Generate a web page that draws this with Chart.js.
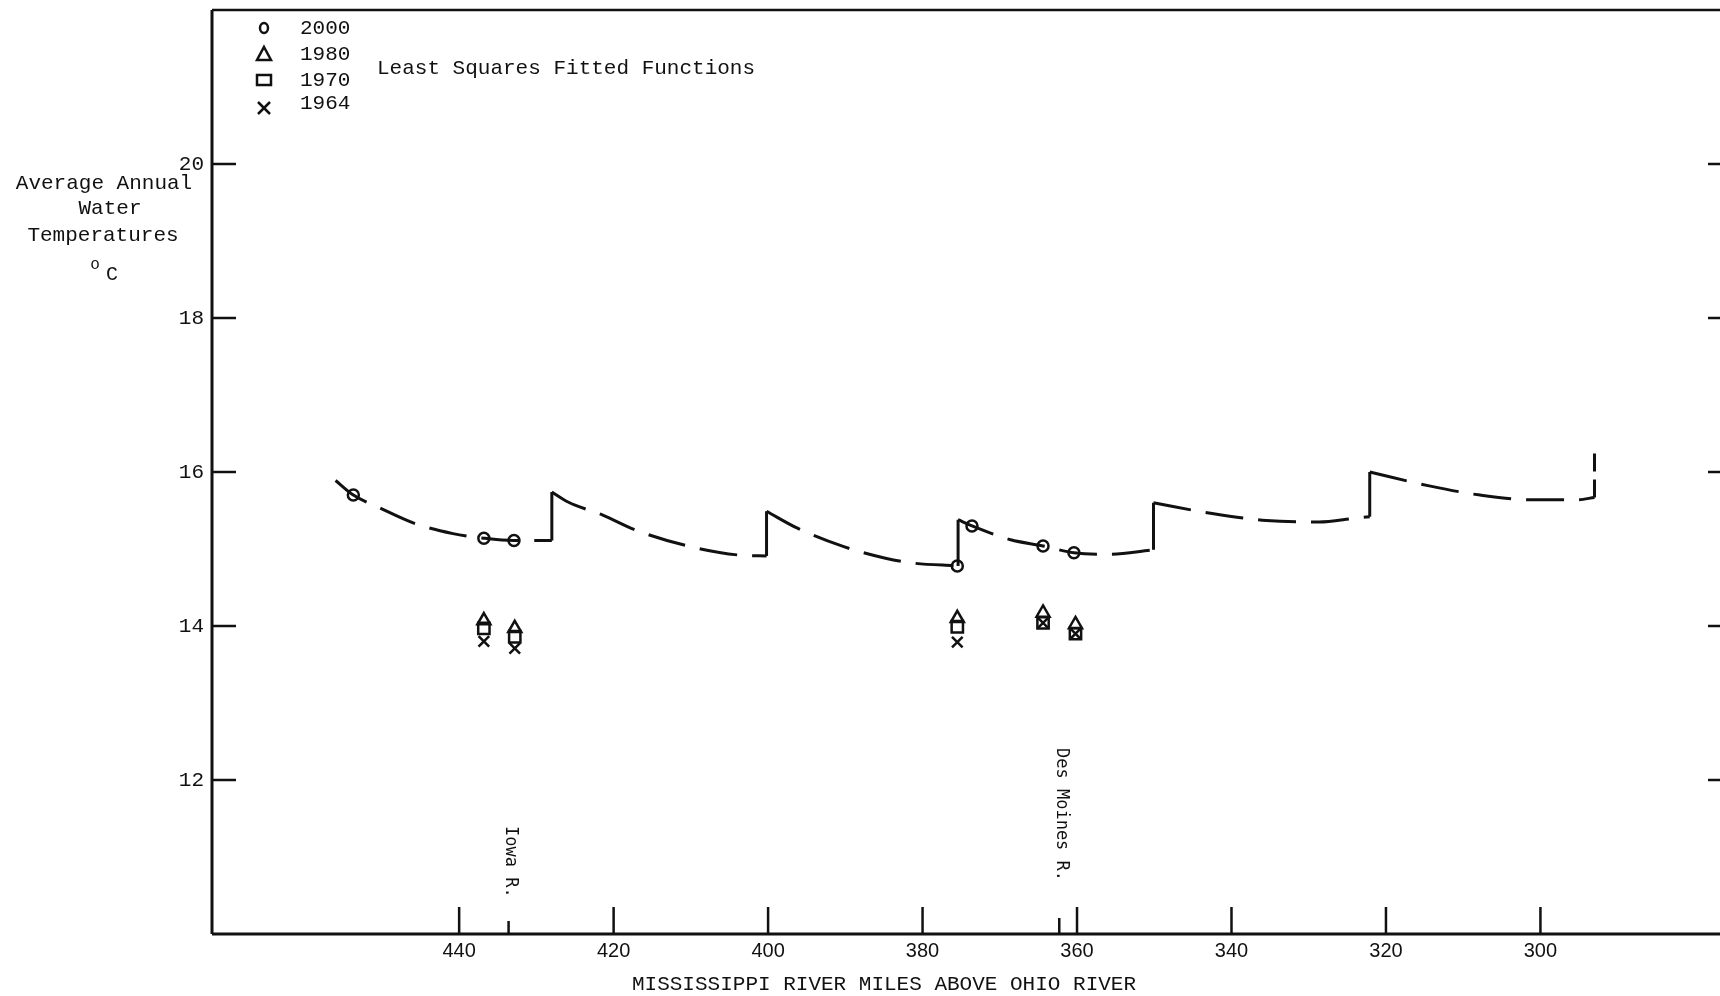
<!DOCTYPE html>
<html>
<head>
<meta charset="utf-8">
<script src="https://cdn.jsdelivr.net/npm/chart.js@4/dist/chart.umd.min.js"></script>
<style>
  html, body { margin: 0; padding: 0; background: #fff; }
</style>
</head>
<body>
<canvas id="tempChart" width="1720" height="996"></canvas>
<script>
// ---- data ----
const xTicks = [440, 420, 400, 380, 360, 340, 320, 300];
const yTicks = [12, 14, 16, 18, 20];

// fitted function pieces (river mile, deg C), left to right
const seg1Miles = [456.0, 453.7, 450.4, 445.7, 440.8, 436.8, 432.9, 428.0];
const seg1Temps = [15.89, 15.70, 15.54, 15.33, 15.20, 15.14, 15.11, 15.11];
const seg2Miles = [428.0, 425.9, 421.4, 417.0, 410.0, 403.6, 400.2];
const seg2Temps = [15.74, 15.61, 15.44, 15.24, 15.03, 14.92, 14.91];
const seg3Miles = [400.2, 396.2, 390.2, 384.8, 381.5, 375.4];
const seg3Temps = [15.49, 15.27, 15.03, 14.88, 14.82, 14.78];
const seg4Miles = [375.4, 373.6, 368.6, 364.4, 360.4, 356.1, 350.1];
const seg4Temps = [15.38, 15.30, 15.12, 15.04, 14.95, 14.93, 14.99];
const seg5Miles = [350.1, 342.5, 335.5, 328.7, 324.0, 322.1];
const seg5Temps = [15.60, 15.46, 15.37, 15.35, 15.40, 15.42];
const seg6Miles = [322.1, 314.4, 307.8, 301.3, 295.2, 293.0];
const seg6Temps = [16.00, 15.82, 15.70, 15.64, 15.64, 15.67];
const endMiles = [293.0, 293.0];
const endTemps = [15.67, 16.28];

// observed / projected points
const miles2000 = [453.7, 436.8, 432.9, 375.5, 373.6, 364.4, 360.4];
const temps2000 = [15.70, 15.14, 15.11, 14.78, 15.30, 15.04, 14.95];
const siteMiles = [436.8, 432.8, 375.5, 364.4, 360.2];
const temps1980 = [14.07, 13.97, 14.10, 14.17, 14.02];
const temps1970 = [13.97, 13.86, 13.99, 14.04, 13.90];
const temps1964 = [13.80, 13.71, 13.79, 14.04, 13.90];

const years = ['2000', '1980', '1970', '1964'];
const riverNames = ['Iowa R.', 'Des Moines R.'];
const riverMiles = [433.6, 362.3];

const ink = '#111';
const mono = "'Liberation Mono', 'DejaVu Sans Mono', monospace";

function pts(xs, ys) { return xs.map((v, i) => ({ x: v, y: ys[i] })); }

const segments = [
  [seg1Miles, seg1Temps], [seg2Miles, seg2Temps], [seg3Miles, seg3Temps],
  [seg4Miles, seg4Temps], [seg5Miles, seg5Temps], [seg6Miles, seg6Temps]
];

const datasets = [];
segments.forEach(([m, t]) => {
  datasets.push({
    data: pts(m, t), showLine: true, borderColor: ink, borderWidth: 3,
    borderDash: [38, 15], pointRadius: 0, cubicInterpolationMode: 'monotone'
  });
});
// solid steps between pieces
for (let i = 0; i < segments.length - 1; i++) {
  const [m0, t0] = segments[i];
  const [m1, t1] = segments[i + 1];
  datasets.push({
    data: [{ x: m0[m0.length - 1], y: t0[t0.length - 1] }, { x: m1[0], y: t1[0] }],
    showLine: true, borderColor: ink, borderWidth: 3, pointRadius: 0
  });
}
datasets.push({
  data: pts(endMiles, endTemps), showLine: true, borderColor: ink,
  borderWidth: 3, borderDash: [18, 8], pointRadius: 0
});

const markerBase = { showLine: false, borderColor: ink, backgroundColor: 'rgba(0,0,0,0)', borderWidth: 2.5 };
datasets.push(Object.assign({ data: pts(miles2000, temps2000), pointStyle: 'circle', pointRadius: 5.5 }, markerBase));
datasets.push(Object.assign({ data: pts(siteMiles, temps1980), pointStyle: 'triangle', pointRadius: 7.5 }, markerBase));
datasets.push(Object.assign({ data: pts(siteMiles, temps1970), pointStyle: 'rect', pointRadius: 8 }, markerBase));
datasets.push(Object.assign({ data: pts(siteMiles, temps1964), pointStyle: 'crossRot', pointRadius: 7.5 }, markerBase));

// -----------------------------
// frame, ticks and annotations
// -----------------------------
const annotate = {
  id: 'annotate',
  afterDraw(chart) {
    const { ctx, chartArea: a, scales: { x, y } } = chart;
    const line = (x0, y0, x1, y1) => { ctx.beginPath(); ctx.moveTo(x0, y0); ctx.lineTo(x1, y1); ctx.stroke(); };
    ctx.save();
    ctx.strokeStyle = ink;
    ctx.fillStyle = ink;

    ctx.lineWidth = 3;
    line(a.left, a.top, a.left, a.bottom);
    line(a.left, a.bottom, a.right, a.bottom);
    ctx.lineWidth = 2.5;
    line(a.left, a.top, a.right, a.top);

    yTicks.forEach(v => {
      const py = y.getPixelForValue(v);
      line(a.left, py, a.left + 24, py);
      line(a.right - 12, py, a.right, py);
    });
    xTicks.forEach(v => {
      const px = x.getPixelForValue(v);
      line(px, a.bottom, px, a.bottom - 27);
    });

    // river mouths
    const labelTop = [826, 748];
    const tickLen = [13, 16];
    ctx.font = "17px 'DejaVu Sans Mono', monospace";
    ctx.textAlign = 'left';
    ctx.textBaseline = 'middle';
    riverNames.forEach((name, i) => {
      const px = x.getPixelForValue(riverMiles[i]);
      line(px, a.bottom, px, a.bottom - tickLen[i]);
      ctx.save();
      ctx.translate(px + 2, labelTop[i]);
      ctx.rotate(Math.PI / 2);
      ctx.fillText(name, 0, 0);
      ctx.restore();
    });

    // legend
    const lx = 264, rows = [28, 54, 80, 106];
    ctx.lineWidth = 2.5;
    ctx.beginPath(); ctx.ellipse(lx, rows[0], 4, 5, 0, 0, Math.PI * 2); ctx.stroke();
    ctx.beginPath();
    ctx.moveTo(lx, rows[1] - 7); ctx.lineTo(lx + 7, rows[1] + 6); ctx.lineTo(lx - 7, rows[1] + 6);
    ctx.closePath(); ctx.stroke();
    ctx.strokeRect(lx - 7, rows[2] - 5, 14, 10);
    line(lx - 6, rows[3] - 4, lx + 6, rows[3] + 8);
    line(lx + 6, rows[3] - 4, lx - 6, rows[3] + 8);
    ctx.font = '21px ' + mono;
    ctx.textBaseline = 'middle';
    years.forEach((yr, i) => ctx.fillText(yr, 300, rows[i] - (i === 3 ? 3 : 0)));

    ctx.fillText('Least Squares Fitted Functions', 377, 68);

    // axis titles
    ctx.textAlign = 'center';
    ctx.fillText('MISSISSIPPI RIVER MILES ABOVE OHIO RIVER', 884, 984);
    ctx.fillText('Average Annual', 104, 183);
    ctx.fillText('Water', 110, 208);
    ctx.fillText('Temperatures', 103, 235);
    ctx.font = '16px ' + mono;
    ctx.fillText('o', 95, 265);
    ctx.font = '20px ' + mono;
    ctx.fillText('C', 112, 275);
    ctx.restore();
  }
};

new Chart(document.getElementById('tempChart'), {
  type: 'scatter',
  data: { datasets: datasets },
  options: {
    responsive: false,
    animation: false,
    devicePixelRatio: 1,
    layout: { autoPadding: false, padding: { top: 10, left: 0, right: 0, bottom: 0 } },
    plugins: { legend: { display: false }, tooltip: { enabled: false } },
    scales: {
      x: {
        type: 'linear', reverse: true, min: 276.75, max: 472,
        afterBuildTicks: s => { s.ticks = xTicks.map(v => ({ value: v })); },
        afterFit: s => { s.height = 62; s.paddingLeft = 0; s.paddingRight = 0; },
        grid: { display: false, drawTicks: false },
        border: { display: false },
        ticks: {
          color: ink, padding: 5, maxRotation: 0, autoSkip: false,
          font: { family: "'Liberation Sans Narrow', 'Liberation Sans', sans-serif", size: 20 }
        }
      },
      y: {
        min: 10, max: 22,
        afterBuildTicks: s => { s.ticks = yTicks.map(v => ({ value: v })); },
        afterFit: s => { s.width = 212; s.paddingTop = 0; s.paddingBottom = 0; },
        grid: { display: false, drawTicks: false },
        border: { display: false },
        ticks: { color: ink, padding: 8, font: { family: mono, size: 21 } }
      }
    }
  },
  plugins: [annotate]
});
</script>
</body>
</html>
